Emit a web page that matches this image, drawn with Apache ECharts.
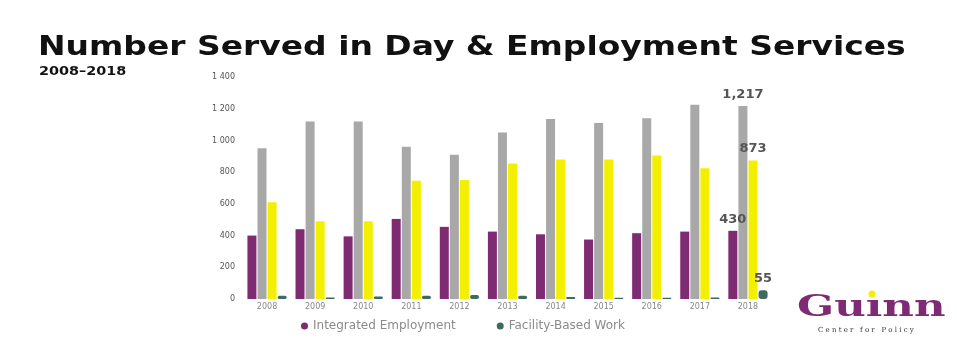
<!DOCTYPE html>
<html>
<head>
<meta charset="utf-8">
<script src="https://cdn.jsdelivr.net/npm/echarts@6/dist/echarts.min.js"></script>
<style>
  html, body { margin: 0; padding: 0; background: #fff; }
  #chart { width: 957px; height: 345px; }
</style>
</head>
<body>
<div id="chart"></div>
<script>
  // values
  const years = ['2008', '2009', '2010', '2011', '2012', '2013', '2014', '2015', '2016', '2017', '2018'];
  const integrated = [400, 440, 395, 505, 455, 425, 408, 375, 415, 425, 430];
  const facilityNonWork = [950, 1120, 1120, 960, 910, 1050, 1135, 1110, 1140, 1225, 1217];
  const communityNonWork = [610, 490, 490, 745, 750, 855, 880, 880, 905, 825, 873];
  const facilityWork = [20, 10, 15, 20, 25, 20, 12, 8, 8, 10, 55];
  const yTicks = [0, 200, 400, 600, 800, 1000, 1200, 1400];

  const seriesDefs = [
    { name: 'Integrated Employment', data: integrated, color: '#7e2b74' },
    { name: 'Facility-Based Non-Work', data: facilityNonWork, color: '#a8a8a8' },
    { name: 'Community-Based Non-Work', data: communityNonWork, color: '#f3ef00' },
    { name: 'Facility-Based Work', data: facilityWork, color: '#3f6a5f' },
  ];

  const chart = echarts.init(document.getElementById('chart'));

  const lastIdx = years.length - 1;

  chart.setOption({
    animation: false,
    legend: {
      data: ['Integrated Employment', 'Facility-Based Work'],
      left: 296,
      top: 315,
      icon: 'circle',
      itemWidth: 7,
      itemHeight: 7,
      itemGap: 41,
      textStyle: { fontFamily: 'DejaVu Sans', fontSize: 12, color: '#8a8a8a' },
    },
    grid: { left: 243, right: 185, top: 77, bottom: 46 },
    xAxis: {
      type: 'category',
      data: years,
      axisLine: { show: false },
      axisTick: { show: false },
      axisLabel: { fontFamily: 'DejaVu Sans', fontSize: 8, color: '#888', margin: 4 },
    },
    yAxis: {
      type: 'value',
      min: yTicks[0],
      max: yTicks[yTicks.length - 1],
      interval: 200,
      splitLine: { show: false },
      axisLine: { show: false },
      axisTick: { show: false },
      axisLabel: {
        fontFamily: 'DejaVu Sans',
        fontSize: 8,
        color: '#555',
        margin: 8,
        formatter: v => (v >= 1000 ? Math.floor(v / 1000) + ' ' + String(v % 1000).padStart(3, '0') : String(v)),
      },
    },
    series: seriesDefs.map(s => ({
      name: s.name,
      type: 'bar',
      barWidth: 9,
      barGap: '12%',
      itemStyle: { color: s.color, borderRadius: s.name === 'Facility-Based Work' ? 3 : 0 },
      label: {
        show: false,
        position: 'top',
        distance: 5,
        fontFamily: 'DejaVu Sans',
        fontWeight: 'bold',
        fontSize: 13,
        color: '#555',
        formatter: p => p.value.toLocaleString('en-US'),
      },
      data: s.data.map((v, i) => (i === lastIdx ? { value: v, label: { show: true } } : v)),
    })),
    graphic: [
      // slide heading, stretched to the wide face used on the slide
      {
        type: 'text',
        left: 38,
        top: 34,
        scaleX: 1.22,
        style: {
          text: 'Number Served in Day & Employment Services',
          font: 'bold 27px "DejaVu Sans"',
          fill: '#111',
        },
      },
      {
        type: 'text',
        left: 39,
        top: 66,
        scaleX: 1.2,
        style: {
          text: '2008–2018',
          font: 'bold 12px "DejaVu Sans"',
          fill: '#111',
        },
      },
      // logo
      {
        type: 'text',
        left: 797,
        top: 293,
        scaleX: 1.45,
        style: {
          text: 'Gu\u0131nn',
          font: 'bold 30px "DejaVu Serif"',
          fill: '#7e2b74',
        },
      },
      {
        type: 'circle',
        shape: { cx: 872, cy: 294, r: 3.5 },
        style: { fill: '#f3ef00' },
      },
      {
        type: 'text',
        left: 818,
        top: 327,
        style: {
          text: 'C e n t e r   f o r   P o l i c y',
          font: '7px "DejaVu Serif"',
          fill: '#333',
        },
      },
    ],
  });
</script>
</body>
</html>
